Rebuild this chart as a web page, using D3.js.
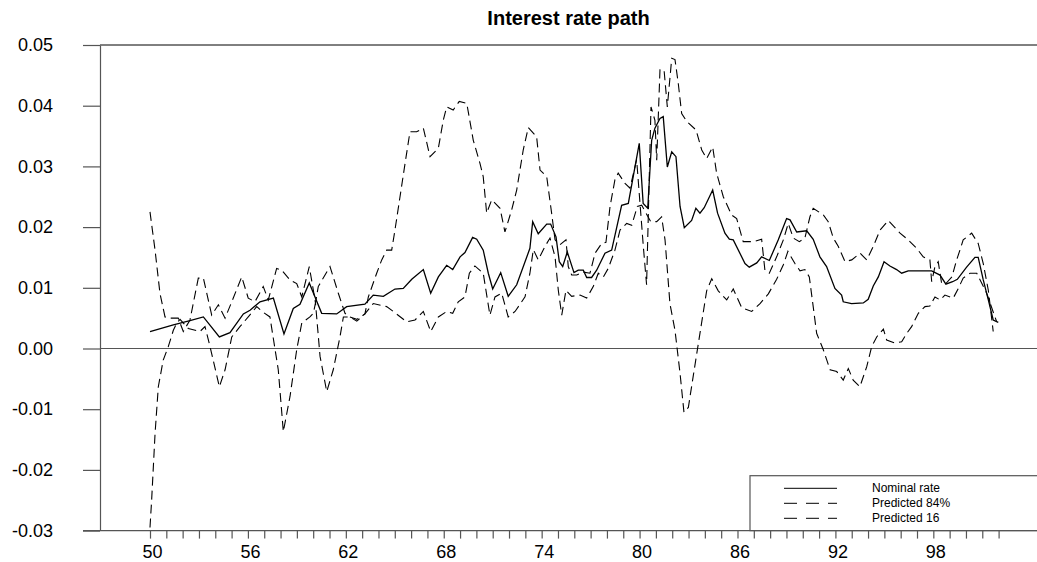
<!DOCTYPE html>
<html>
<head>
<meta charset="utf-8">
<script src="https://cdn.jsdelivr.net/npm/d3@7"></script>
<style>
  html, body { margin: 0; padding: 0; background: #fff; }
  svg { display: block; font-family: "Liberation Sans", Arial, Helvetica, sans-serif; }
</style>
</head>
<body>
<svg id="chart" width="1037" height="562"></svg>
<script>
// [year (19xx), rate]
const nominalRate = [
  [50.00, 0.0028], [51.43, 0.0039], [52.45, 0.0046], [53.27, 0.0052], [54.25, 0.0019],
  [54.90, 0.0026], [55.72, 0.0057], [56.13, 0.0063], [56.74, 0.0077], [57.56, 0.0083],
  [58.21, 0.0024], [58.78, 0.0066], [59.19, 0.0073], [59.76, 0.0108], [60.52, 0.0058],
  [61.44, 0.0057], [62.05, 0.0069], [63.17, 0.0073], [63.68, 0.0088], [64.30, 0.0086],
  [65.01, 0.0098], [65.52, 0.0099], [66.04, 0.0114], [66.75, 0.0130], [67.20, 0.0091],
  [67.67, 0.0118], [68.18, 0.0137], [68.55, 0.0130], [69.00, 0.0151], [69.30, 0.0158],
  [69.77, 0.0183], [70.02, 0.0180], [70.42, 0.0162], [70.73, 0.0124], [71.00, 0.0098],
  [71.49, 0.0125], [71.95, 0.0086], [72.47, 0.0105], [73.28, 0.0165], [73.45, 0.0209],
  [73.79, 0.0189], [74.31, 0.0205], [74.55, 0.0205], [74.88, 0.0184], [75.08, 0.0143],
  [75.29, 0.0135], [75.57, 0.0159], [75.98, 0.0125], [76.24, 0.0129], [76.55, 0.0129],
  [76.76, 0.0117], [77.06, 0.0117], [77.37, 0.0129], [77.88, 0.0157], [78.29, 0.0162],
  [78.90, 0.0236], [79.31, 0.0239], [79.61, 0.0283], [79.98, 0.0338], [80.22, 0.0239],
  [80.50, 0.0231], [80.74, 0.0343], [80.94, 0.0363], [81.25, 0.0379], [81.45, 0.0382],
  [81.70, 0.0299], [81.97, 0.0324], [82.23, 0.0316], [82.48, 0.0234], [82.74, 0.0199],
  [83.19, 0.0211], [83.45, 0.0231], [83.70, 0.0223], [83.96, 0.0232], [84.48, 0.0261],
  [84.78, 0.0223], [85.23, 0.0190], [85.50, 0.0180], [85.74, 0.0179], [86.46, 0.0140],
  [86.72, 0.0134], [87.18, 0.0141], [87.48, 0.0151], [87.95, 0.0145], [88.50, 0.0179],
  [89.01, 0.0214], [89.22, 0.0212], [89.63, 0.0192], [90.24, 0.0194], [90.64, 0.0180],
  [91.05, 0.0151], [91.46, 0.0135], [91.97, 0.0099], [92.38, 0.0088], [92.48, 0.0077],
  [92.99, 0.0074], [93.71, 0.0075], [94.01, 0.0081], [94.32, 0.0103], [94.63, 0.0118],
  [94.98, 0.0143], [95.34, 0.0136], [95.75, 0.0130], [96.06, 0.0124], [96.46, 0.0128],
  [97.18, 0.0128], [97.90, 0.0128], [98.41, 0.0121], [98.77, 0.0106], [99.18, 0.0110],
  [99.47, 0.0114], [100.04, 0.0134], [100.55, 0.0150], [100.75, 0.0150], [101.06, 0.0113],
  [101.37, 0.0080], [101.67, 0.0047], [101.98, 0.0043]
];

const predicted84 = [
  [50.00, 0.0225], [50.31, 0.0162], [50.61, 0.0091], [50.92, 0.0052], [51.23, 0.0050],
  [51.73, 0.0050], [52.04, 0.0028], [52.45, 0.0047], [52.96, 0.0116], [53.27, 0.0116],
  [53.78, 0.0055], [54.19, 0.0072], [54.60, 0.0050], [55.01, 0.0077], [55.62, 0.0118],
  [56.02, 0.0083], [56.43, 0.0077], [56.94, 0.0102], [57.25, 0.0080], [57.76, 0.0132],
  [58.07, 0.0129], [58.58, 0.0113], [58.99, 0.0107], [59.30, 0.0085], [59.76, 0.0135],
  [60.01, 0.0096], [60.14, 0.0075], [60.31, 0.0102], [61.03, 0.0135], [61.54, 0.0091],
  [61.95, 0.0058], [62.25, 0.0052], [62.67, 0.0048], [63.17, 0.0057], [63.38, 0.0085],
  [63.89, 0.0124], [64.20, 0.0146], [64.50, 0.0162], [64.81, 0.0162], [65.01, 0.0195],
  [65.32, 0.0250], [65.63, 0.0305], [65.93, 0.0357], [66.34, 0.0357], [66.75, 0.0363],
  [67.16, 0.0316], [67.67, 0.0330], [67.97, 0.0376], [68.18, 0.0398], [68.58, 0.0393],
  [68.95, 0.0407], [69.41, 0.0404], [69.81, 0.0343], [70.22, 0.0305], [70.42, 0.0283],
  [70.63, 0.0223], [70.94, 0.0245], [71.45, 0.0231], [71.75, 0.0192], [72.16, 0.0228],
  [72.47, 0.0261], [72.87, 0.0327], [73.18, 0.0364], [73.69, 0.0349], [73.90, 0.0294],
  [74.31, 0.0283], [74.61, 0.0223], [74.82, 0.0179], [75.12, 0.0171], [75.49, 0.0179],
  [75.63, 0.0135], [75.84, 0.0121], [76.15, 0.0121], [76.53, 0.0126], [76.96, 0.0124],
  [77.27, 0.0157], [77.68, 0.0173], [77.94, 0.0175], [78.19, 0.0234], [78.49, 0.0278],
  [78.69, 0.0289], [79.11, 0.0272], [79.41, 0.0264], [79.82, 0.0311], [80.23, 0.0168],
  [80.43, 0.0105], [80.70, 0.0398], [80.94, 0.0376], [81.05, 0.0310], [81.25, 0.0459],
  [81.50, 0.0459], [81.70, 0.0398], [81.97, 0.0478], [82.17, 0.0476], [82.37, 0.0437],
  [82.58, 0.0387], [82.89, 0.0374], [83.46, 0.0360], [83.81, 0.0327], [84.11, 0.0313],
  [84.48, 0.0332], [84.72, 0.0289], [85.13, 0.0250], [85.64, 0.0220], [85.95, 0.0214],
  [86.35, 0.0176], [86.97, 0.0176], [87.48, 0.0180], [87.68, 0.0129], [87.95, 0.0124],
  [88.40, 0.0151], [88.81, 0.0179], [89.11, 0.0206], [89.42, 0.0182], [89.79, 0.0176],
  [90.13, 0.0182], [90.44, 0.0217], [90.64, 0.0231], [91.26, 0.0220], [91.56, 0.0209],
  [91.87, 0.0182], [92.18, 0.0168], [92.59, 0.0143], [93.00, 0.0146], [93.51, 0.0157],
  [93.92, 0.0146], [94.32, 0.0168], [94.73, 0.0195], [95.24, 0.0211], [95.96, 0.0190],
  [96.46, 0.0179], [96.98, 0.0165], [97.38, 0.0151], [97.79, 0.0146], [97.90, 0.0110],
  [98.10, 0.0135], [98.30, 0.0143], [98.51, 0.0107], [98.77, 0.0107], [99.14, 0.0118],
  [99.43, 0.0146], [99.63, 0.0162], [99.83, 0.0179], [100.35, 0.0190], [100.75, 0.0173],
  [101.06, 0.0140], [101.37, 0.0096], [101.67, 0.0028]
];

const predicted16 = [
  [50.00, -0.0295], [50.10, -0.0250], [50.31, -0.0140], [50.51, -0.0063], [50.81, -0.0019],
  [51.12, 0.0003], [51.43, 0.0030], [51.64, 0.0042], [51.84, 0.0048], [52.35, 0.0033],
  [53.06, 0.0028], [53.37, 0.0036], [53.68, 0.0003], [54.25, -0.0063], [54.60, -0.0035],
  [55.01, 0.0019], [55.51, 0.0036], [56.02, 0.0052], [56.54, 0.0069], [56.92, 0.0060],
  [57.35, 0.0052], [57.86, -0.0035], [58.17, -0.0137], [58.58, -0.0079], [58.99, -0.0002],
  [59.30, 0.0042], [59.80, 0.0052], [60.01, 0.0058], [60.14, 0.0075], [60.42, -0.0013],
  [60.83, -0.0071], [61.23, -0.0035], [61.64, 0.0019], [61.85, 0.0052], [62.25, 0.0052],
  [62.67, 0.0045], [63.17, 0.0057], [63.68, 0.0074], [64.50, 0.0069], [64.91, 0.0061],
  [65.73, 0.0044], [66.24, 0.0047], [66.75, 0.0061], [67.20, 0.0028], [67.67, 0.0052],
  [68.18, 0.0061], [68.55, 0.0058], [68.89, 0.0077], [69.30, 0.0085], [69.57, 0.0124],
  [69.91, 0.0136], [70.42, 0.0124], [70.65, 0.0085], [70.83, 0.0055], [71.14, 0.0085],
  [71.55, 0.0091], [71.95, 0.0052], [72.37, 0.0061], [72.98, 0.0085], [73.28, 0.0124],
  [73.49, 0.0163], [73.79, 0.0146], [74.20, 0.0168], [74.51, 0.0182], [74.82, 0.0151],
  [75.02, 0.0096], [75.23, 0.0055], [75.49, 0.0096], [75.84, 0.0086], [76.35, 0.0088],
  [76.76, 0.0083], [77.16, 0.0102], [77.47, 0.0124], [77.78, 0.0118], [78.08, 0.0132],
  [78.49, 0.0162], [78.80, 0.0195], [79.21, 0.0206], [79.52, 0.0203], [79.86, 0.0234],
  [80.13, 0.0236], [80.68, 0.0209], [81.05, 0.0209], [81.35, 0.0217], [81.56, 0.0179],
  [81.86, 0.0074], [82.17, 0.0030], [82.48, -0.0041], [82.72, -0.0105], [82.99, -0.0097],
  [83.29, -0.0045], [83.70, 0.0025], [84.11, 0.0095], [84.42, 0.0115], [84.82, 0.0095],
  [85.34, 0.0080], [85.74, 0.0098], [86.26, 0.0067], [86.87, 0.0061], [87.38, 0.0074],
  [87.89, 0.0090], [88.40, 0.0114], [88.81, 0.0138], [89.09, 0.0160], [89.52, 0.0140],
  [89.83, 0.0128], [90.13, 0.0130], [90.40, 0.0118], [90.64, 0.0069], [90.85, 0.0025],
  [91.26, -0.0002], [91.67, -0.0035], [92.08, -0.0038], [92.48, -0.0052], [92.79, -0.0033],
  [93.09, -0.0052], [93.50, -0.0063], [93.92, -0.0030], [94.22, 0.0003], [94.53, 0.0019],
  [94.94, 0.0032], [95.14, 0.0014], [95.65, 0.0009], [96.06, 0.0011], [96.37, 0.0025],
  [96.67, 0.0036], [97.08, 0.0058], [97.49, 0.0069], [97.79, 0.0070], [98.10, 0.0085],
  [98.41, 0.0080], [98.71, 0.0088], [99.22, 0.0083], [99.53, 0.0099], [99.83, 0.0116],
  [100.25, 0.0124], [100.66, 0.0124], [101.27, 0.0091], [101.88, 0.0044]
];

const yTickValues = [-0.03, -0.02, -0.01, 0.00, 0.01, 0.02, 0.03, 0.04, 0.05];
const xTickYears = [50, 51, 52, 53, 54, 55, 56, 57, 58, 59, 60, 61, 62, 63, 64, 65, 66, 67,
  68, 69, 70, 71, 72, 73, 74, 75, 76, 77, 78, 79, 80, 81, 82, 83, 84, 85, 86, 87, 88, 89,
  90, 91, 92, 93, 94, 95, 96, 97, 98, 99, 100, 101, 102];
const xLabelYears = [50, 56, 62, 68, 74, 80, 86, 92, 98];
const seriesNames = ["Nominal rate", "Predicted 84%", "Predicted 16"];
const chartTitle = "Interest rate path";

const width = 1037, height = 562;
const frame = { left: 100, right: 1037, top: 45, bottom: 530.6 };
const axisColor = "#555";
const dash = "9,5";

const x = d3.scaleLinear().domain([50, 102]).range([150, 998.6]);
const y = d3.scaleLinear().domain([-0.03, 0.05]).range([frame.bottom, frame.top]);

const svg = d3.select("#chart");

svg.append("defs").append("clipPath").attr("id", "plot-clip")
  .append("rect")
  .attr("x", frame.left).attr("y", frame.top)
  .attr("width", frame.right - frame.left).attr("height", frame.bottom - frame.top);

// title
svg.append("text")
  .attr("x", (frame.left + frame.right) / 2)
  .attr("y", 25)
  .attr("text-anchor", "middle")
  .attr("font-size", 20)
  .attr("font-weight", "bold")
  .attr("fill", "#000")
  .text(chartTitle);

// top border
svg.append("line")
  .attr("x1", frame.left).attr("x2", frame.right)
  .attr("y1", frame.top).attr("y2", frame.top)
  .attr("stroke", "#000").attr("stroke-width", 1);

// y axis
const yAxis = d3.axisLeft(y)
  .tickValues(yTickValues)
  .tickSize(17)
  .tickSizeOuter(0)
  .tickPadding(30)
  .tickFormat(d => d.toFixed(2));

const yG = svg.append("g")
  .attr("transform", `translate(${frame.left},0)`)
  .call(yAxis);
yG.select(".domain").attr("stroke", axisColor).attr("stroke-width", 1.2);
yG.selectAll(".tick line").attr("stroke", axisColor).attr("stroke-width", 1.2);
yG.selectAll(".tick text")
  .attr("font-size", 18)
  .attr("font-family", "\"Liberation Sans\", Arial, sans-serif")
  .attr("fill", "#000");

// zero line
svg.append("line")
  .attr("x1", frame.left).attr("x2", frame.right)
  .attr("y1", y(0)).attr("y2", y(0))
  .attr("stroke", axisColor).attr("stroke-width", 1.2);

// x axis
svg.append("line")
  .attr("x1", frame.left - 17).attr("x2", frame.right)
  .attr("y1", frame.bottom).attr("y2", frame.bottom)
  .attr("stroke", axisColor).attr("stroke-width", 1.2);

const xAxis = d3.axisBottom(x)
  .tickValues(xTickYears)
  .tickSize(8)
  .tickSizeOuter(0)
  .tickFormat(d => xLabelYears.includes(d) ? String(d) : "");

const xG = svg.append("g")
  .attr("transform", `translate(0,${frame.bottom})`)
  .call(xAxis);
xG.select(".domain").remove();
xG.selectAll(".tick line").attr("stroke", axisColor).attr("stroke-width", 1.2);
xG.selectAll(".tick text")
  .attr("font-size", 18)
  .attr("font-family", "\"Liberation Sans\", Arial, sans-serif")
  .attr("fill", "#000")
  .attr("dx", 2)
  .attr("y", 15);

// series
const line = d3.line().x(d => x(d[0])).y(d => y(d[1]));
const lines = svg.append("g").attr("clip-path", "url(#plot-clip)");

lines.append("path").datum(predicted84)
  .attr("d", line).attr("fill", "none")
  .attr("stroke", "#000").attr("stroke-width", 1.1)
  .attr("stroke-dasharray", dash);

lines.append("path").datum(predicted16)
  .attr("d", line).attr("fill", "none")
  .attr("stroke", "#000").attr("stroke-width", 1.1)
  .attr("stroke-dasharray", dash);

lines.append("path").datum(nominalRate)
  .attr("d", line).attr("fill", "none")
  .attr("stroke", "#000").attr("stroke-width", 1.3);

// legend
const legend = svg.append("g");
legend.append("rect")
  .attr("x", 750).attr("y", 475.7)
  .attr("width", frame.right - 750 + 2).attr("height", frame.bottom - 475.7)
  .attr("fill", "#fff").attr("stroke", axisColor).attr("stroke-width", 1.2);

seriesNames.forEach((name, i) => {
  const ly = 488.3 + i * 15;
  legend.append("line")
    .attr("x1", 784).attr("x2", 837)
    .attr("y1", ly).attr("y2", ly)
    .attr("stroke", "#000").attr("stroke-width", 1)
    .attr("stroke-dasharray", i === 0 ? null : "13,9");
  legend.append("text")
    .attr("x", 872).attr("y", ly + 4)
    .attr("font-size", 12)
    .attr("fill", "#000")
    .text(name);
});
</script>
</body>
</html>
